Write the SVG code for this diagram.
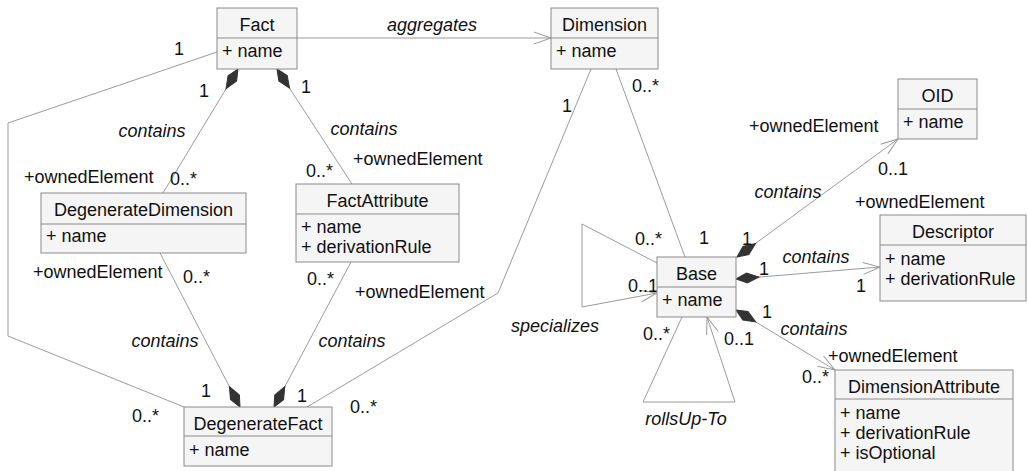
<svg xmlns="http://www.w3.org/2000/svg" width="1028" height="471" viewBox="0 0 1028 471">
<style>
text{font-family:"Liberation Sans",Arial,sans-serif;font-size:18px;fill:#111}
.t{text-anchor:middle}
.i{font-style:italic}
.box{fill:#f5f5f5;stroke:#8a8a8a;stroke-width:1}
.sep{stroke:#8a8a8a;stroke-width:1}
.ln{fill:none;stroke:#9a9a9a;stroke-width:1}
</style>
<defs>
<marker id="dia" markerUnits="userSpaceOnUse" markerWidth="24" markerHeight="12" refX="0" refY="6" orient="auto" viewBox="0 0 24 12" overflow="visible">
<path d="M0,6 L11,1 L23,6 L11,11 Z" fill="#333" stroke="#333" stroke-width="1"/>
</marker>
<marker id="arr" markerUnits="userSpaceOnUse" markerWidth="18" markerHeight="14" refX="17" refY="7" orient="auto" viewBox="0 0 18 14" overflow="visible">
<path d="M0,1 L17,7 L0,13" fill="none" stroke="#9a9a9a" stroke-width="1"/>
</marker>
</defs>
<rect width="1028" height="471" fill="#fff"/>

<g id="connectors">
<path class="ln" d="M297,38 L551,38" marker-end="url(#arr)"/>
<path class="ln" d="M217,52 L8,123 L8,336 L184,407"/>
<path class="ln" d="M238,69 L163,193" marker-start="url(#dia)"/>
<path class="ln" d="M277,69 L352,184" marker-start="url(#dia)"/>
<path class="ln" d="M240,407 L160,253" marker-start="url(#dia)"/>
<path class="ln" d="M274,407 L351,262" marker-start="url(#dia)"/>
<path class="ln" d="M591,69 L498,293 L307,407"/>
<path class="ln" d="M616,69 L685,257"/>
<path class="ln" d="M657,263 L582,224 L582,307 L657,293" marker-end="url(#arr)"/>
<path class="ln" d="M682,317 L643,402 L735,402 L707,317" marker-end="url(#arr)"/>
<path class="ln" d="M737,257 L898,139" marker-start="url(#dia)" marker-end="url(#arr)"/>
<path class="ln" d="M736,279 L880,267" marker-start="url(#dia)" marker-end="url(#arr)"/>
<path class="ln" d="M736,310 L835,370" marker-start="url(#dia)" marker-end="url(#arr)"/>

<text class="t i" x="432" y="31">aggregates</text>
<text x="174" y="55">1</text>
<text x="132" y="422">0..*</text>
<text x="199" y="97">1</text>
<text class="t i" x="152" y="137">contains</text>
<text x="24" y="183">+ownedElement</text>
<text x="170" y="185">0..*</text>
<text x="301" y="93">1</text>
<text class="t i" x="364" y="135">contains</text>
<text x="353" y="165">+ownedElement</text>
<text x="306" y="177">0..*</text>
<text x="33" y="278">+ownedElement</text>
<text x="183" y="283">0..*</text>
<text class="t i" x="165" y="347">contains</text>
<text x="201" y="397">1</text>
<text x="307" y="285">0..*</text>
<text class="t i" x="352" y="347">contains</text>
<text x="297" y="402">1</text>
<text x="562" y="112">1</text>
<text x="355" y="298">+ownedElement</text>
<text x="350" y="413">0..*</text>
<text x="632" y="92">0..*</text>
<text x="699" y="244">1</text>
<text x="635" y="245">0..*</text>
<text x="628" y="292">0..1</text>
<text class="t i" x="555" y="332">specializes</text>
<text x="643" y="340">0..*</text>
<text x="724" y="345">0..1</text>
<text class="t i" x="686" y="425">rollsUp-To</text>
<text x="749" y="132">+ownedElement</text>
<text x="878" y="175">0..1</text>
<text class="t i" x="788" y="198">contains</text>
<text x="742" y="245">1</text>
<text class="t i" x="816" y="263">contains</text>
<text x="759" y="275">1</text>
<text x="856" y="292">1</text>
<text x="855" y="208">+ownedElement</text>
<text x="762" y="318">1</text>
<text class="t i" x="814" y="335">contains</text>
<text x="828" y="362">+ownedElement</text>
<text x="802" y="383">0..*</text>
</g>

<g id="Fact">
<rect class="box" x="217" y="8" width="80" height="61"/>
<line class="sep" x1="217" y1="38" x2="297" y2="38"/>
<text class="t" x="257" y="31">Fact</text>
<text x="222" y="57">+ name</text>
</g>
<g id="Dimension">
<rect class="box" x="551" y="8" width="107" height="61"/>
<line class="sep" x1="551" y1="38" x2="658" y2="38"/>
<text class="t" x="604.5" y="31">Dimension</text>
<text x="556" y="57">+ name</text>
</g>
<g id="DegenerateDimension">
<rect class="box" x="41" y="193" width="205" height="60"/>
<line class="sep" x1="41" y1="224" x2="246" y2="224"/>
<text class="t" x="143.5" y="216">DegenerateDimension</text>
<text x="46" y="242">+ name</text>
</g>
<g id="FactAttribute">
<rect class="box" x="296" y="184" width="163" height="78"/>
<line class="sep" x1="296" y1="214" x2="459" y2="214"/>
<text class="t" x="377.5" y="207">FactAttribute</text>
<text x="301" y="233">+ name</text>
<text x="301" y="253">+ derivationRule</text>
</g>
<g id="DegenerateFact">
<rect class="box" x="184" y="407" width="148" height="59"/>
<line class="sep" x1="184" y1="436" x2="332" y2="436"/>
<text class="t" x="258" y="430">DegenerateFact</text>
<text x="189" y="456">+ name</text>
</g>
<g id="Base">
<rect class="box" x="657" y="257" width="79" height="60"/>
<line class="sep" x1="657" y1="287" x2="736" y2="287"/>
<text class="t" x="696.5" y="280">Base</text>
<text x="662" y="306">+ name</text>
</g>
<g id="OID">
<rect class="box" x="898" y="79" width="79" height="60"/>
<line class="sep" x1="898" y1="109" x2="977" y2="109"/>
<text class="t" x="937.5" y="102">OID</text>
<text x="903" y="128">+ name</text>
</g>
<g id="Descriptor">
<rect class="box" x="880" y="215" width="146" height="86"/>
<line class="sep" x1="880" y1="245" x2="1026" y2="245"/>
<text class="t" x="953" y="238">Descriptor</text>
<text x="885" y="265">+ name</text>
<text x="885" y="285">+ derivationRule</text>
</g>
<g id="DimensionAttribute">
<rect class="box" x="835" y="370" width="178" height="110"/>
<line class="sep" x1="835" y1="399" x2="1013" y2="399"/>
<text class="t" x="924" y="393">DimensionAttribute</text>
<text x="840" y="419">+ name</text>
<text x="840" y="439">+ derivationRule</text>
<text x="840" y="459">+ isOptional</text>
</g>
</svg>
